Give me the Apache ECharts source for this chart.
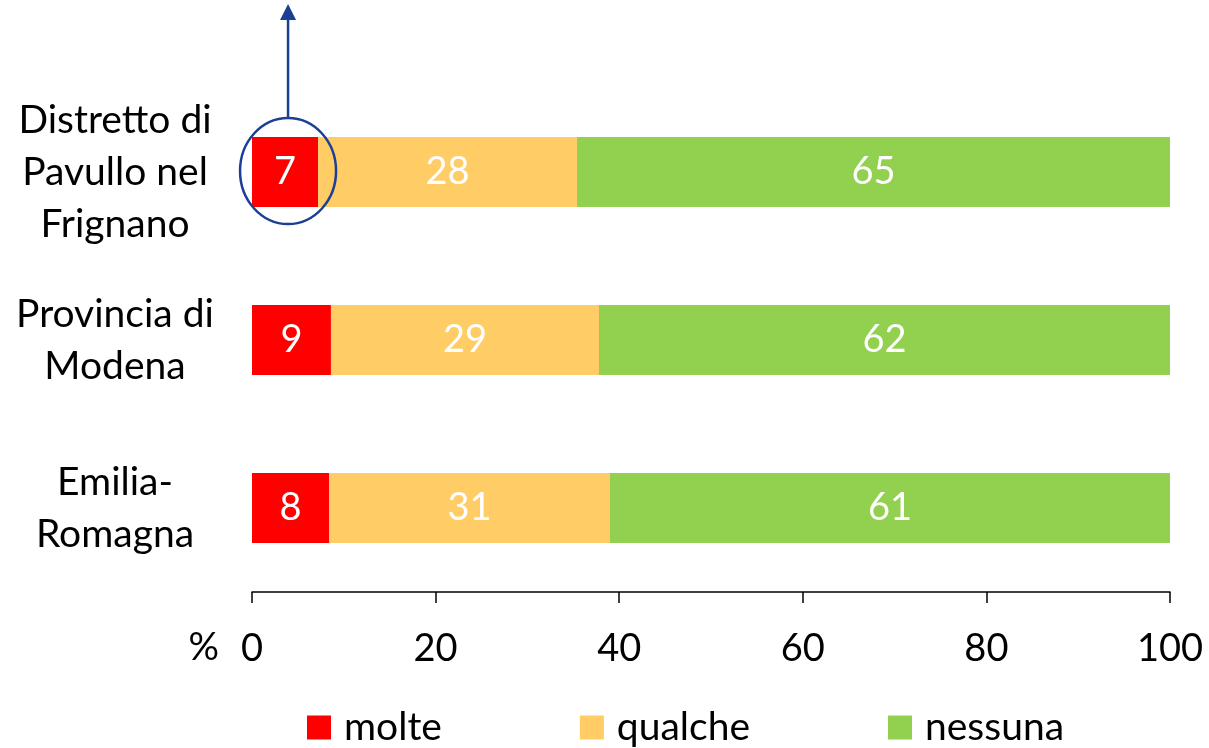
<!DOCTYPE html>
<html>
<head>
<meta charset="utf-8">
<script src="https://cdn.jsdelivr.net/npm/echarts@6/dist/echarts.min.js"></script>
<style>html,body{margin:0;padding:0;background:#fff}#c{width:1209px;height:748px}</style>
</head>
<body>
<div id="c"></div>
<script>
var categories = ['Distretto di\nPavullo nel\nFrignano', 'Provincia di\nModena', 'Emilia-\nRomagna'];
var seriesNames = ['molte', 'qualche', 'nessuna'];
var molte = [7.2, 8.6, 8.4];
var qualche = [28.2, 29.2, 30.6];
var nessuna = [64.6, 62.2, 61.0];
var colors = ['#FF0000', '#FFCC66', '#92D050'];
var xTicks = [0, 20, 40, 60, 80, 100];

var FONT = 'Lato';
var chart = echarts.init(document.getElementById('c'));
var values = [molte, qualche, nessuna];
var series = seriesNames.map(function (n, i) {
  return {
    name: n, type: 'bar', stack: 'tot', data: values[i], barWidth: 70,
    itemStyle: {color: colors[i]},
    label: {show: true, position: 'inside', color: '#fff', fontFamily: FONT, fontSize: 38,
      formatter: function (p) { return Math.round(p.value); }}
  };
});
chart.setOption({
  animation: false,
  grid: {left: 252, right: 39, top: 88, bottom: 156},
  legend: {
    bottom: -4, left: 302, itemWidth: 24, itemHeight: 24, itemGap: 138,
    icon: 'rect', textStyle: {fontFamily: FONT, fontSize: 39, color: '#000', padding: [0, 0, 0, 8]},
    data: seriesNames
  },
  xAxis: {
    type: 'value', min: 0, max: 100, interval: 20,
    axisLine: {show: true, lineStyle: {color: '#000', width: 1.5}},
    axisTick: {show: true, length: 11, lineStyle: {color: '#000', width: 1.5}},
    splitLine: {show: false},
    axisLabel: {fontFamily: FONT, fontSize: 38, color: '#000', margin: 38,
      formatter: function (v) { return xTicks.indexOf(v) >= 0 ? String(v) : ''; }}
  },
  yAxis: {
    type: 'category', data: categories, inverse: true,
    axisLine: {show: false}, axisTick: {show: false},
    axisLabel: {fontFamily: FONT, fontSize: 39, color: '#000', align: 'center', margin: 137, lineHeight: 52}
  },
  series: series
});

// annotation: ellipse around first "molte" bar + arrow, plus "%" label
var c = chart.convertToPixel({gridIndex: 0}, [molte[0] / 2, 0]);
var zero = chart.convertToPixel({gridIndex: 0}, [0, 0]);
var blue = '#1B3F94';
chart.setOption({
  graphic: [
    {type: 'ellipse', shape: {cx: c[0] + 3, cy: c[1] - 1, rx: 48, ry: 53},
      style: {fill: 'none', stroke: blue, lineWidth: 2.5}, z: 100},
    {type: 'line', shape: {x1: c[0] + 3, y1: c[1] - 54, x2: c[0] + 3, y2: 18},
      style: {stroke: blue, lineWidth: 2.5}, z: 100},
    {type: 'polygon', shape: {points: [[c[0] + 3, 4], [c[0] - 5, 20], [c[0] + 11, 20]]},
      style: {fill: blue}, z: 100},
    {type: 'text', x: zero[0] - 33, y: 648,
      style: {text: '%', font: '38px ' + FONT, fill: '#000', align: 'right', verticalAlign: 'middle'}}
  ]
});
</script>
</body>
</html>
